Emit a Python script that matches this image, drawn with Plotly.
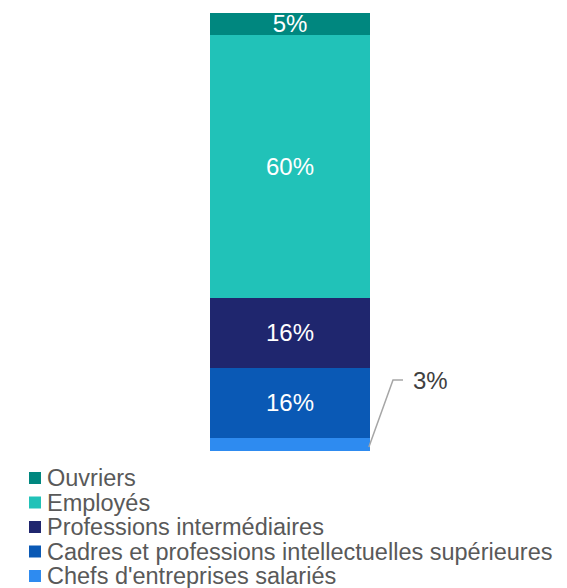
import plotly.graph_objects as go

# Data (bottom to top of the stack)
categories = ["Chefs d'entreprises salariés",
              "Cadres et professions intellectuelles supérieures",
              "Professions intermédiaires",
              "Employés",
              "Ouvriers"]
values = [3, 16, 16, 60, 5]
colors = ["#2E8BF0", "#0A59B5", "#1F266E", "#21C2B8", "#00877F"]
show_inside = [False, True, True, True, True]

OFF = 8  # page body margin
W, H = 567 - OFF, 588 - OFF
BAR_CX, BAR_TOP, BAR_BOT = 290 - OFF, 13 - OFF, 451 - OFF
M_L = 0
plot_w = W - M_L
M_T = BAR_TOP
M_B = H - BAR_BOT
plot_h = BAR_BOT - BAR_TOP
x_lo = -(BAR_CX - M_L) / plot_w
x_hi = x_lo + 1

def px_to_xdata(px):
    return x_lo + (px - OFF - M_L) / plot_w

def px_to_ydata(py):
    return (BAR_BOT - (py - OFF)) / plot_h * 100

def px_to_xpaper(px):
    return (px - OFF - M_L) / plot_w

def px_to_ypaper(py):
    return (BAR_BOT - (py - OFF)) / plot_h

FONT = "Liberation Sans, Arial"
FS = 24
FS_LEG = 23.5

fig = go.Figure()
bar_w = 160 / plot_w
for cat, v, c, si in zip(categories, values, colors, show_inside):
    fig.add_trace(go.Bar(
        x=[0], y=[v], name=cat, marker=dict(color=c, line=dict(width=0)),
        width=bar_w,
        text=[f"{v}%"] if si else [""],
        textposition="inside", insidetextanchor="middle",
        textfont=dict(color="white", size=FS, family=FONT),
        hoverinfo="name+y", showlegend=False,
    ))

# leader line + outside label for smallest segment
x_edge = bar_w / 2
y_small = values[0] * 0.3
y_lab = px_to_ydata(380)
fig.add_shape(type="path",
              path=f"M {x_edge - 0.002},{y_small} L {px_to_xdata(393)},{y_lab} L {px_to_xdata(403)},{y_lab}",
              xref="x", yref="y", line=dict(color="#A6A6A6", width=1.5))
fig.add_annotation(x=px_to_xdata(411), y=y_lab, xref="x", yref="y",
                   text=f"{values[0]}%", showarrow=False, xanchor="left", yanchor="middle",
                   font=dict(color="#404040", size=FS, family=FONT))

# manual legend (top to bottom: reverse stacking order)
leg_y = [478, 502.5, 527, 551.5, 576]
for i, (cat, c) in enumerate(zip(categories[::-1], colors[::-1])):
    cy = leg_y[i]
    fig.add_shape(type="rect", xref="paper", yref="paper",
                  x0=px_to_xpaper(29), x1=px_to_xpaper(41),
                  y0=px_to_ypaper(cy + 6), y1=px_to_ypaper(cy - 6),
                  fillcolor=c, line=dict(width=0))
    fig.add_annotation(x=px_to_xpaper(46), y=px_to_ypaper(cy), xref="paper", yref="paper",
                       text=cat, showarrow=False, xanchor="left", yanchor="middle",
                       borderpad=0,
                       font=dict(color="#595959", size=FS_LEG, family=FONT))

fig.update_layout(
    width=W, height=H, barmode="stack",
    margin=dict(l=M_L, r=0, t=M_T, b=M_B, pad=0),
    paper_bgcolor="white", plot_bgcolor="white",
    showlegend=False,
    uniformtext=dict(minsize=FS, mode="show"),
    xaxis=dict(range=[x_lo, x_hi], visible=False, fixedrange=True),
    yaxis=dict(range=[0, 100], visible=False, fixedrange=True),
)
fig.write_html("out.html", config={"displayModeBar": False})
